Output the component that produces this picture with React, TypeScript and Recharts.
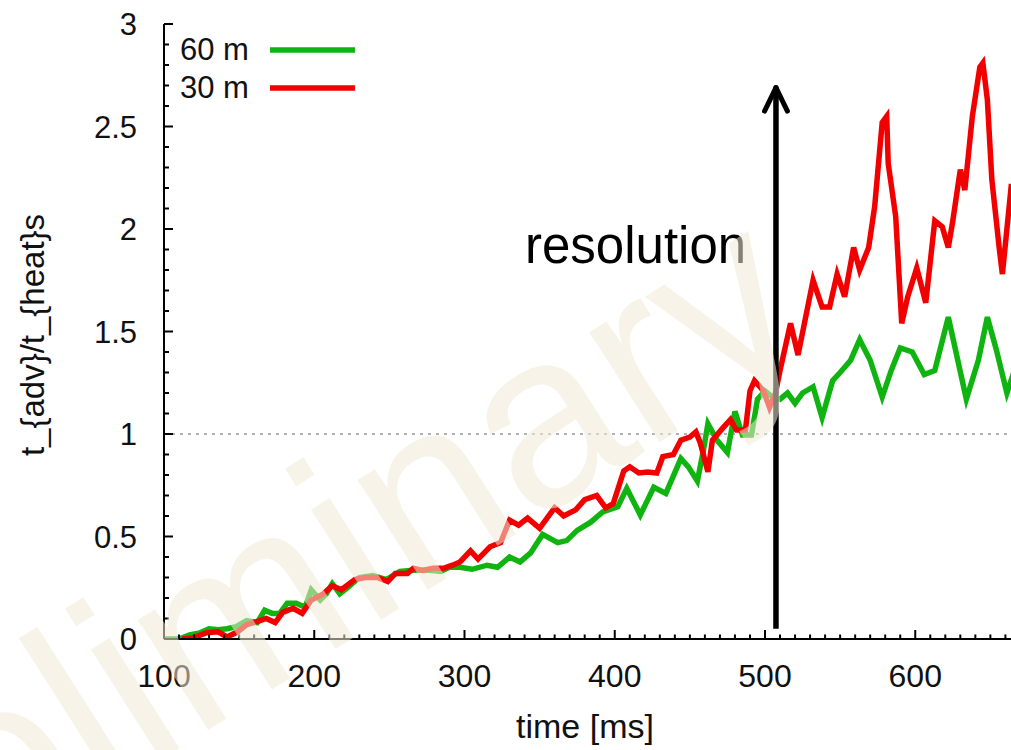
import React from 'react';
import { LineChart, Line, XAxis, YAxis, ReferenceLine, Legend } from 'recharts';

// ---- data ----
const greenTime = [
  100, 102, 110, 117, 124, 130, 136, 142, 148, 155, 162, 167, 172, 177, 182, 188, 194, 198, 204, 208,
  212, 217, 222, 230, 239, 248, 257, 266, 277, 284, 290, 297, 305, 315, 322, 330, 337, 344, 352, 362,
  368, 375, 384, 392, 402, 408, 417, 426, 434, 444, 449, 455, 459, 462, 468, 475, 480, 485, 491, 495,
  500, 505, 510, 515, 520, 525, 532, 538, 545, 550, 557, 563, 570, 578, 584, 590, 598, 606, 613, 622,
  634, 642, 648, 654, 661, 666,
];
const greenValue = [
  0.0, 0.0, 0.0, 0.02, 0.03, 0.05, 0.045, 0.05, 0.06, 0.09, 0.08, 0.14, 0.125, 0.125, 0.175, 0.175, 0.155, 0.24, 0.19, 0.22,
  0.27, 0.22, 0.25, 0.3, 0.31, 0.29, 0.33, 0.335, 0.335, 0.33, 0.35, 0.35, 0.34, 0.36, 0.35, 0.4, 0.376, 0.42, 0.51, 0.47,
  0.48, 0.53, 0.57, 0.62, 0.645, 0.735, 0.605, 0.74, 0.71, 0.88, 0.84, 0.77, 0.92, 1.05, 0.97, 0.91, 1.11, 0.995, 0.995, 1.17,
  1.21, 1.18, 1.17, 1.2, 1.15, 1.2, 1.23, 1.08, 1.26, 1.3, 1.36, 1.46, 1.36, 1.18, 1.31, 1.42, 1.4, 1.29, 1.31, 1.57,
  1.17, 1.36, 1.57, 1.41, 1.2, 1.31,
];
const redTime = [
  112, 119, 128, 136, 142, 149, 155, 164, 168, 174, 179, 186, 192, 198, 206, 212, 218, 227, 234, 242,
  249, 254, 262, 266, 272, 279, 286, 292, 297, 304, 309, 317, 324, 330, 336, 342, 350, 357, 360, 366,
  374, 380, 388, 394, 399, 406, 410, 416, 422, 428, 432, 439, 444, 450, 454, 457, 462, 465, 472, 477,
  481, 487, 490, 493, 499, 503, 507, 510, 517, 522, 532, 538, 543, 548, 553, 559, 563, 569, 573, 578,
  581, 582, 587, 591, 595, 601, 607, 613, 618, 622, 625, 630, 633, 638, 643, 645, 648, 651, 656, 658,
  664,
];
const redValue = [
  0.0, 0.005, 0.03, 0.035, 0.01, 0.035, 0.07, 0.09, 0.1, 0.08, 0.13, 0.15, 0.125, 0.19, 0.22, 0.26, 0.24, 0.29, 0.3, 0.3,
  0.28, 0.32, 0.32, 0.345, 0.335, 0.345, 0.345, 0.36, 0.376, 0.43, 0.39, 0.45, 0.47, 0.58, 0.555, 0.59, 0.54, 0.61, 0.64, 0.6,
  0.63, 0.68, 0.7, 0.64, 0.66, 0.82, 0.84, 0.81, 0.815, 0.81, 0.89, 0.9, 0.97, 0.985, 1.01, 0.955, 0.815, 0.97, 1.03, 1.07,
  1.02, 1.02, 1.21, 1.26, 1.21, 1.13, 1.2, 1.31, 1.54, 1.385, 1.75, 1.62, 1.62, 1.78, 1.67, 1.91, 1.8, 1.91, 2.11, 2.52,
  2.55, 2.32, 2.06, 1.54, 1.67, 1.81, 1.64, 2.04, 2.01, 1.91, 2.04, 2.29, 2.19, 2.55, 2.79, 2.81, 2.63, 2.24, 1.9, 1.78,
  2.22,
];

const xMajorTicks = [100, 200, 300, 400, 500, 600];
const yMajorTicks = [0, 0.5, 1, 1.5, 2, 2.5, 3];
const xTicks = Array.from({ length: 61 }, (_, i) => 100 + i * 10);
const yTicks = Array.from({ length: 31 }, (_, i) => i / 10);

const GREEN = '#10b410';
const RED = '#f20000';
const legendItems = [
  { label: '60 m', color: GREEN },
  { label: '30 m', color: RED },
];

const arrowX = 507.3;
const arrowBottom = 0.05;
const arrowTop = 2.69;
const arrowHeadDx = 7.6;
const arrowHeadDy = 0.115;

const FONT = '"Liberation Sans", Arial, sans-serif';

const greenData = greenTime.map((t, i) => ({ t, v: greenValue[i] }));
const redData = redTime.map((t, i) => ({ t, v: redValue[i] }));

const isXMajor = (v: number) => v % 100 === 0;
const isXLabel = (v: number) => xMajorTicks.includes(v);
const isYMajor = (v: number) => yMajorTicks.some((m) => Math.abs(m - v) < 1e-6);

const XTickBottom = (p: any) => {
  const { x, y, payload } = p;
  const major = isXMajor(payload.value);
  return (
    <g>
      <line x1={x} x2={x} y1={y} y2={y - (major ? 9 : 4.5)} stroke="#000" strokeWidth={2} />
      {isXLabel(payload.value) && (
        <text x={x} y={y + 48} textAnchor="middle" fontSize={32} fontFamily={FONT} fill="#111">
          {payload.value}
        </text>
      )}
    </g>
  );
};

const XTickTop = (p: any) => {
  const { x, y, payload } = p;
  const major = isXMajor(payload.value);
  return <line x1={x} x2={x} y1={y} y2={y + (major ? 9 : 4.5)} stroke="#000" strokeWidth={2} />;
};

const YTick = (p: any) => {
  const { x, y, payload } = p;
  const major = isYMajor(payload.value);
  return (
    <g>
      <line x1={x} x2={x + (major ? 9 : 5)} y1={y} y2={y} stroke="#000" strokeWidth={2} />
      {major && (
        <text x={x - 27} y={y + 11} textAnchor="end" fontSize={31} fontFamily={FONT} fill="#111">
          {String(payload.value)}
        </text>
      )}
    </g>
  );
};

const LegendBox = () => (
  <svg width={200} height={90} style={{ display: 'block' }}>
    {legendItems.map((it, i) => (
      <g key={it.label}>
        <text x={10} y={40 + i * 38} fontSize={31} fontFamily={FONT} fill="#111">
          {it.label}
        </text>
        <line x1={100} x2={185} y1={30 + i * 38} y2={30 + i * 38} stroke={it.color} strokeWidth={5.5} />
      </g>
    ))}
  </svg>
);

export default function App() {
  const W = 1100;
  const H = 750;
  const plotLeft = 164;
  const plotRight = plotLeft + 600 * 1.5025;
  return (
    <div
      style={{
        position: 'absolute',
        left: 0,
        top: 0,
        width: 1011,
        height: 750,
        overflow: 'hidden',
        background: '#fff',
      }}
    >
      <LineChart
        width={W}
        height={H}
        margin={{ top: 24, right: W - plotRight, bottom: 0, left: 0 }}
      >
        <XAxis
          type="number"
          dataKey="t"
          domain={[100, 700]}
          ticks={xTicks}
          interval={0}
          height={111}
          tickSize={0}
          tickMargin={0}
          axisLine={{ stroke: '#000', strokeWidth: 2 }}
          tickLine={false}
          tick={(p: any) => <XTickBottom {...p} />}
          allowDataOverflow
          label={{
            content: () => (
              <text x={585} y={738} textAnchor="middle" fontSize={34} fontFamily={FONT} fill="#111">
                time [ms]
              </text>
            ),
          }}
        />
        <XAxis
          xAxisId="top"
          orientation="top"
          type="number"
          dataKey="t"
          domain={[100, 700]}
          ticks={xTicks}
          interval={0}
          height={0}
          tickSize={0}
          tickMargin={0}
          axisLine={{ stroke: '#000', strokeWidth: 2 }}
          tickLine={false}
          tick={(p: any) => <XTickTop {...p} />}
          allowDataOverflow
        />
        <YAxis
          type="number"
          domain={[0, 3]}
          ticks={yTicks}
          interval={0}
          width={164}
          tickSize={0}
          tickMargin={0}
          axisLine={{ stroke: '#000', strokeWidth: 2 }}
          tickLine={false}
          tick={(p: any) => <YTick {...p} />}
          allowDataOverflow
          label={{
            content: () => (
              <text
                x={44}
                y={335}
                transform="rotate(-90 44 335)"
                textAnchor="middle"
                fontSize={33}
                fontFamily={FONT}
                fill="#111"
              >
                {'t_{adv}/t_{heat}s'}
              </text>
            ),
          }}
        />
        <ReferenceLine y={1} stroke="#999" strokeWidth={1.5} strokeDasharray="3 5" />
        <Legend
          layout="horizontal"
          verticalAlign="middle"
          align="center"
          wrapperStyle={{ position: 'absolute', left: 170, top: 20, width: 200, height: 90 }}
          content={() => <LegendBox />}
        />
        <Line
          data={greenData}
          dataKey="v"
          stroke={GREEN}
          strokeWidth={5.5}
          dot={false}
          isAnimationActive={false}
          strokeLinejoin="miter"
        />
        <Line
          data={redData}
          dataKey="v"
          stroke={RED}
          strokeWidth={5.5}
          dot={false}
          isAnimationActive={false}
          strokeLinejoin="miter"
        />
        <ReferenceLine
          segment={[
            { x: arrowX, y: arrowBottom },
            { x: arrowX, y: arrowTop },
          ]}
          stroke="#000"
          strokeWidth={5.5}
        />
        <ReferenceLine
          segment={[
            { x: arrowX - arrowHeadDx, y: arrowTop - arrowHeadDy },
            { x: arrowX, y: arrowTop },
          ]}
          stroke="#000"
          strokeWidth={5}
          strokeLinecap="round"
        />
        <ReferenceLine
          segment={[
            { x: arrowX + arrowHeadDx, y: arrowTop - arrowHeadDy },
            { x: arrowX, y: arrowTop },
          ]}
          stroke="#000"
          strokeWidth={5}
          strokeLinecap="round"
        />
      </LineChart>
      <svg
        width={1011}
        height={750}
        style={{ position: 'absolute', left: 0, top: 0, pointerEvents: 'none' }}
      >
        <text x={525} y={263} fontSize={51} fontFamily={FONT} fill="#000">
          resolution
        </text>
        <text
          x={-200}
          y={990}
          transform="rotate(-32.5 -200 990)"
          fontSize={247}
          fontFamily={FONT}
          fill="rgb(240,233,213)"
          fillOpacity={0.55}
        >
          preliminary
        </text>
      </svg>
    </div>
  );
}
